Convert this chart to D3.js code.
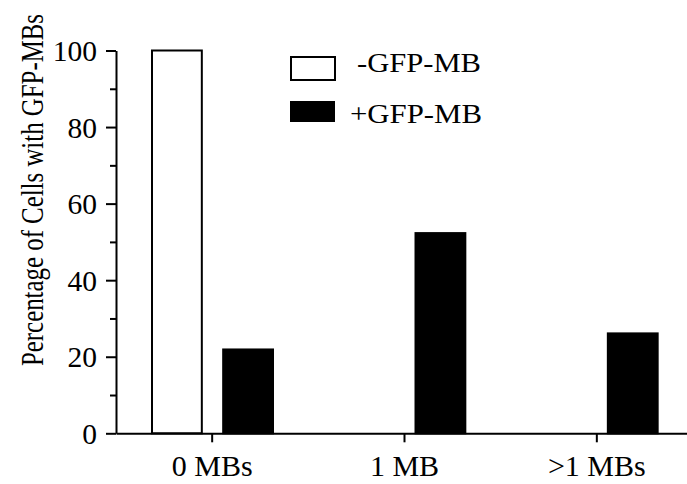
<!DOCTYPE html>
<html>
<head>
<meta charset="utf-8">
<script src="https://cdn.jsdelivr.net/npm/d3@7"></script>
</head>
<body style="margin:0; background:#fff">
<svg width="687" height="484"></svg>
<script>
// data
const categories = ["0 MBs", "1 MB", ">1 MBs"];
const seriesNames = ["-GFP-MB", "+GFP-MB"];
const withoutGfp = [100, 0, 0];
const withGfp = [21.9, 52.3, 26.1];
const yTicks = [0, 20, 40, 60, 80, 100];
const yMinorTicks = [10, 30, 50, 70, 90];

const width = 687, height = 484;
const margin = {top: 50.5, right: -6, bottom: 50.7, left: 116};
const serif = "Liberation Serif";

const svg = d3.select('svg')

let x0 = d3.scaleBand()
    .domain(categories)
    .range([margin.left, width - margin.right])

let x1 = d3.scaleBand()
    .domain(seriesNames)
    .range([36, 157])
    .paddingInner(0.3)

let y = d3.scaleLinear()
    .domain([0, 100])
    .range([height - margin.bottom, margin.top])

const rows = categories.map((c, i) => ({cat: c, vals: [withoutGfp[i], withGfp[i]]}))

// bars
groups = svg.append("g").selectAll("g")
    .data(rows)
    .join("g")
    .attr("transform", d => `translate(${x0(d.cat)}, 0)`)

groups.selectAll("rect")
    .data(d => d.vals.map((v, j) => ({name: seriesNames[j], v: v})))
    .join("rect")
    .filter(d => d.v > 0)
    .attr("x", d => x1(d.name))
    .attr("y", d => y(d.v))
    .attr("width", x1.bandwidth())
    .attr("height", d => y(0) - y(d.v))
    .attr("fill", d => d.name == "-GFP-MB" ? "#fff" : "#000")
    .attr("stroke", "#000")
    .attr("stroke-width", 2)

// y axis
yAxis = svg.append("g")
    .attr("transform", `translate(${margin.left}, 0)`)
    .call(d3.axisLeft(y).tickValues(yTicks).tickSize(10).tickPadding(9).tickSizeOuter(0))

yAxis.append("g")
    .call(d3.axisLeft(y).tickValues(yMinorTicks).tickSize(6).tickFormat("").tickSizeOuter(0))
    .select(".domain").remove()

yAxis.selectAll(".tick text")
    .attr("dy", "0.34em")
    .style("font-size", "29.5px")

// x axis
xAxis = svg.append("g")
    .attr("transform", `translate(0, ${y(0)})`)
    .call(d3.axisBottom(x0).tickSize(9).tickPadding(12).tickSizeOuter(0))

xAxis.selectAll(".tick text")
    .style("font-size", "30px")

svg.selectAll(".tick text")
    .style("font-family", serif)
    .attr("fill", "#000")

svg.selectAll(".domain, .tick line")
    .attr("stroke", "#000")
    .attr("stroke-width", 2)

// y label
svg.append("text")
    .attr("transform", "translate(43, 366) rotate(-90)")
    .style("font-family", serif)
    .style("font-size", "31px")
    .attr("textLength", 352)
    .attr("lengthAdjust", "spacingAndGlyphs")
    .text("Percentage of Cells with GFP-MBs")

// legend
legend = svg.append("g")
    .attr("transform", "translate(291, 57)")

legend.append("rect")
    .attr("width", 44).attr("height", 23)
    .attr("fill", "#fff").attr("stroke", "#000").attr("stroke-width", 2)

legend.append("rect")
    .attr("y", 44).attr("width", 45).attr("height", 21)
    .attr("x", -1)
    .attr("fill", "#000")

legend.append("text")
    .attr("x", 66).attr("y", 15)
    .style("font-family", serif)
    .style("font-size", "27px")
    .attr("textLength", 124)
    .attr("lengthAdjust", "spacingAndGlyphs")
    .text(seriesNames[0])

legend.append("text")
    .attr("x", 59).attr("y", 66)
    .style("font-family", serif)
    .style("font-size", "27px")
    .attr("textLength", 132)
    .attr("lengthAdjust", "spacingAndGlyphs")
    .text(seriesNames[1])
</script>
</body>
</html>
